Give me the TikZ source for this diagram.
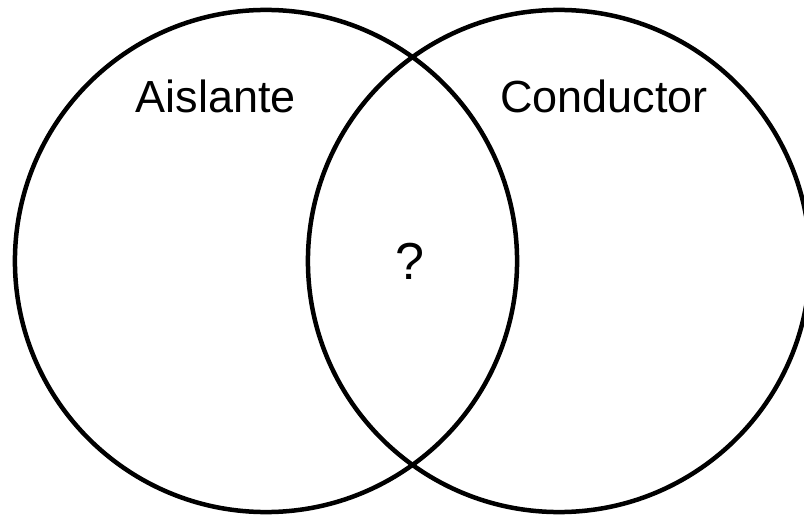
\documentclass[tikz,border=0pt]{standalone}
\usepackage{fontspec}
\setmainfont{Liberation Sans}
\usetikzlibrary{positioning}

\begin{document}
\begin{tikzpicture}[x=0.025cm, y=-0.025cm,
	set/.style={draw, circle, line width=3.2pt, minimum size=12.55cm, inner sep=0pt, outer sep=0pt},
	setlabel/.style={anchor=base, inner sep=0pt, font=\fontsize{32}{38}\selectfont}]
	\useasboundingbox (0,0) rectangle (804,518);
	\clip (0,0) rectangle (804,518);
	% the two sets
	\node [set] (aislante) at (266,261) {};
	\node [set] (conductor) at (559,261) {};
	% the labels
	\node [setlabel] (aislantetxt) at (216,113) {Aislante};
	\node [setlabel] (conductortxt) at (604,113) {Conductor};
	\node [setlabel, font=\fontsize{37}{42}\selectfont] (interseccion) at (410,280) {?};
\end{tikzpicture}
\end{document}
